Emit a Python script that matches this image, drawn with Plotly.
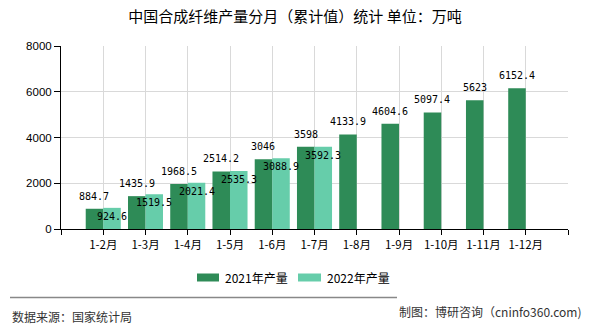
import plotly.graph_objects as go

months = ["1-2月", "1-3月", "1-4月", "1-5月", "1-6月", "1-7月", "1-8月", "1-9月", "1-10月", "1-11月", "1-12月"]
series_names = ["2021年产量", "2022年产量"]
values_2021 = [884.7, 1435.9, 1968.5, 2514.2, 3046, 3598, 4133.9, 4604.6, 5097.4, 5623, 6152.4]
values_2022 = [924.6, 1519.5, 2021.4, 2535.3, 3088.9, 3592.3]
y_ticks = [0, 2000, 4000, 6000, 8000]
colors = ["#2e8b57", "#66cdaa"]

W, H = 590, 330
L, R, T, B = 61, 568, 46, 229

def px_x(p):
    return (p - L) / (R - L)

def px_y(p):
    return (B - p) / (B - T)

x21 = list(range(len(values_2021)))
x22 = list(range(len(values_2022)))
bargap = 0.17
half = (1 - bargap) / 4.0

fig = go.Figure()
fig.add_trace(go.Bar(x=x21, y=values_2021, name=series_names[0], marker_color=colors[0],
                     marker_line_width=0, showlegend=False))
fig.add_trace(go.Bar(x=x22, y=values_2022, name=series_names[1], marker_color=colors[1],
                     marker_line_width=0, showlegend=False))

annotations = []
lab_font = dict(family="DejaVu Sans Mono", size=10, color="#000000")
for x, v in zip(x21, values_2021):
    annotations.append(dict(x=x - half, y=v, xref="x", yref="y", text=f"{v:g}", showarrow=False,
                            yanchor="middle", xanchor="center", yshift=12.5, font=lab_font))
for x, v in zip(x22, values_2022):
    annotations.append(dict(x=x + half, y=v, xref="x", yref="y", text=f"{v:g}", showarrow=False,
                            yanchor="middle", xanchor="center", yshift=-8.5, font=lab_font))

# custom legend
shapes = []
leg_items = [(197, 219, 223), (298, 321, 325)]
for (sx0, sx1, tx), name, c in zip(leg_items, series_names, colors):
    shapes.append(dict(type="rect", xref="paper", yref="paper", x0=px_x(sx0), x1=px_x(sx1),
                       y0=px_y(281.5), y1=px_y(273.5), fillcolor=c, line_width=0))
    annotations.append(dict(x=px_x(tx), y=px_y(277.5), xref="paper", yref="paper", text=name,
                            showarrow=False, xanchor="left", yanchor="middle",
                            font=dict(family="Noto Sans CJK SC", size=12, color="#000000")))

shapes.append(dict(type="line", xref="paper", yref="paper", x0=px_x(10), x1=px_x(397),
                   y0=px_y(297.5), y1=px_y(297.5), line=dict(color="#888888", width=1.3)))
annotations.append(dict(x=px_x(10), y=px_y(316), xref="paper", yref="paper", text="数据来源：国家统计局",
                        showarrow=False, xanchor="left", yanchor="middle",
                        font=dict(family="Noto Sans CJK SC", size=12, color="#333333")))
annotations.append(dict(x=px_x(584), y=px_y(311.5), xref="paper", yref="paper",
                        text="制图：博研咨询（cninfo360.com)",
                        showarrow=False, xanchor="right", yanchor="middle",
                        font=dict(family="Noto Sans CJK SC", size=12, color="#333333")))

fig.update_layout(
    width=W, height=H,
    margin=dict(l=L, r=W - R, t=T, b=H - B, pad=0),
    paper_bgcolor="white", plot_bgcolor="white",
    barmode="group", bargap=bargap, bargroupgap=0,
    title=dict(text="中国合成纤维产量分月（累计值）统计 单位：万吨", x=0.5, xanchor="center",
               y=1 - 17 / H, yanchor="middle", xref="container", yref="container",
               font=dict(family="Noto Sans CJK SC", size=15, color="#000000")),
    xaxis=dict(range=[-1, len(months)], tickmode="array",
               tickvals=list(range(-1, len(months) + 1)),
               ticktext=[""] + months + [""],
               showgrid=True, gridcolor="#d9d9d9", gridwidth=1,
               showline=True, linecolor="#000000", linewidth=1,
               ticks="outside", ticklen=5, tickcolor="#000000",
               tickfont=dict(family="Noto Sans CJK SC", size=11.5, color="#000000"),
               zeroline=False, fixedrange=True),
    yaxis=dict(range=[0, 8000], tickmode="array", tickvals=y_ticks,
               showgrid=True, gridcolor="#d9d9d9", gridwidth=1,
               showline=True, linecolor="#000000", linewidth=1,
               ticks="outside", ticklen=6, tickcolor="#000000",
               tickfont=dict(family="Liberation Sans", size=11.5, color="#000000"),
               zeroline=False, fixedrange=True),
    annotations=annotations, shapes=shapes,
)

fig.write_html("out.html")
